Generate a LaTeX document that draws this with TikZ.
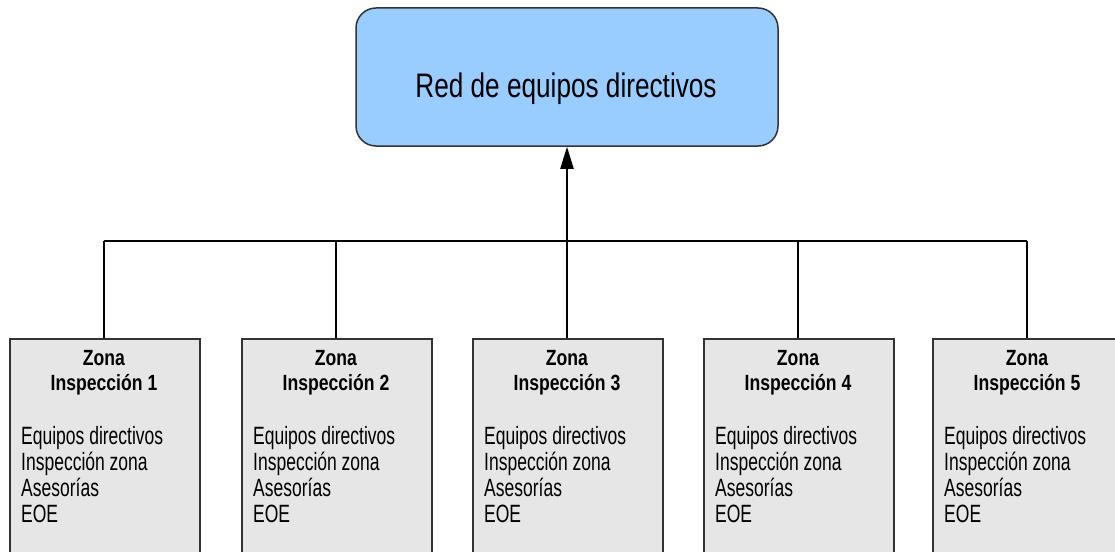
\documentclass[tikz,border=0pt]{standalone}
\usepackage{fontspec}
\setmainfont{Liberation Sans}
\newfontfamily\topfont[FakeStretch=0.77]{Liberation Sans}
\newfontfamily\bodyfont[FakeStretch=0.70]{Liberation Sans}
\newfontfamily\titlefont[FakeStretch=0.8]{Liberation Sans}
\usetikzlibrary{arrows.meta}
\definecolor{topblue}{HTML}{99CCFF}
\definecolor{boxgray}{HTML}{E6E6E6}
\definecolor{edgegray}{HTML}{333333}
\tikzset{
  topbox/.style={draw=edgegray, line width=1.5pt, fill=topblue, rounded corners=20pt,
    minimum width=422pt, minimum height=138pt, inner sep=0pt},
  toptext/.style={inner sep=0pt, font=\topfont\fontsize{34}{40}\selectfont},
  zonebox/.style={draw=edgegray, line width=1.5pt, fill=boxgray,
    minimum width=190pt, minimum height=260pt, inner sep=0pt},
  zonetitle/.style={inner sep=0pt, font=\titlefont\bfseries\fontsize{22}{25}\selectfont},
  zonebody/.style={inner sep=0pt, font=\bodyfont\fontsize{25}{26}\selectfont},
  conn/.style={draw=black, line width=1.5pt},
  mainarrow/.style={draw=black, line width=2.2pt, -{Triangle[length=22pt,width=13pt]}}
}
\begin{document}
\begin{tikzpicture}[x=1pt,y=-1pt]
\useasboundingbox (0,0) rectangle (1115,551);
\clip (0,0) rectangle (1115,551);
\node[topbox] (top) at (567,77) {};
\node[toptext, anchor=base] (toplabel) at (566,97) {Red de equipos directivos};
\foreach \i/\cx in {1/104,2/336,3/567,4/798,5/1027}{
  \node[zonebox, anchor=north] (z\i) at (\cx+1,338) {};
  \node[zonetitle, anchor=base] (ta\i) at (\cx,365) {Zona};
  \node[zonetitle, anchor=base] (tb\i) at (\cx,390) {Inspección \i};
  \node[zonebody, anchor=base west] (ba\i) at (\cx-83,444) {Equipos directivos};
  \node[zonebody, anchor=base west] (bb\i) at (\cx-83,470) {Inspección zona};
  \node[zonebody, anchor=base west] (bc\i) at (\cx-83,496) {Asesorías};
  \node[zonebody, anchor=base west] (bd\i) at (\cx-83,522) {EOE};
  \coordinate (j\i) at (\cx,241);
  \draw[conn] (z\i.north -| j\i) -- (j\i);
}
\draw[conn] (j1) -- (j5);
\draw[mainarrow] (j3) -- (top.south);
\end{tikzpicture}
\end{document}
